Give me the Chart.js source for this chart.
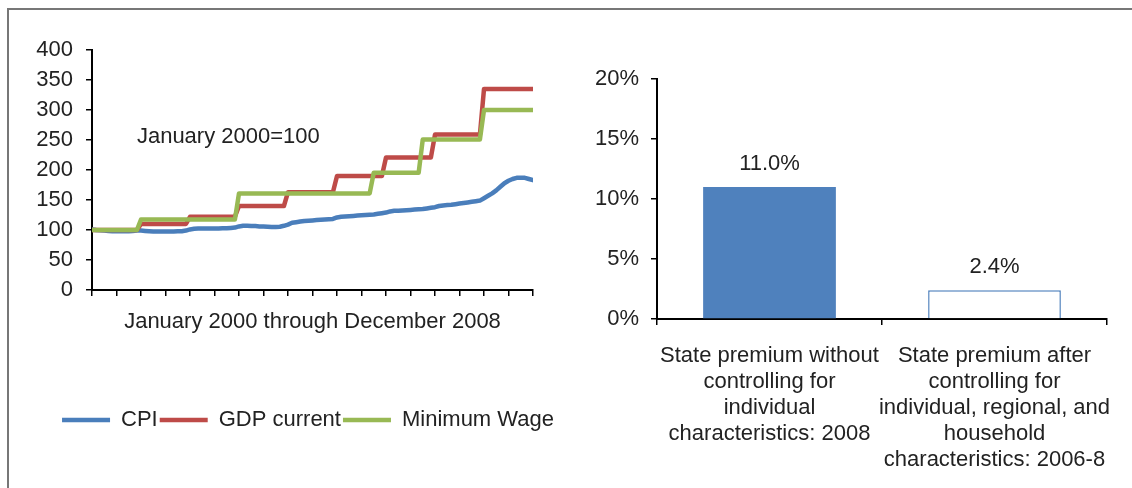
<!DOCTYPE html>
<html><head><meta charset="utf-8">
<script src="https://cdn.jsdelivr.net/npm/chart.js@4.4.1/dist/chart.umd.min.js"></script>
<style>
html,body{margin:0;padding:0;background:#fff;}
#wrap{position:relative;width:1132px;height:488px;overflow:hidden;}
#frame{position:absolute;left:7px;top:8px;width:1200px;height:600px;border-top:2px solid #777;border-left:2px solid #777;}
#c1{position:absolute;left:0;top:0;}
#c2{position:absolute;left:566px;top:0;}
</style></head><body>
<div id="wrap"><div id="frame"></div>
<canvas id="c1" width="566" height="488"></canvas>
<canvas id="c2" width="566" height="488"></canvas></div>
<script>
// ---- Left chart: January 2000 = 100, monthly Jan 2000 .. Jan 2009 (109 points)
const seriesNames = ['CPI', 'GDP current', 'Minimum Wage'];
const cpi = [
  101,100,99.5,99,98.5,98,98,98,98,98,98.5,99,
  99,98.5,98,97.5,97.5,97.5,97.5,97.5,97.5,98,98,99,
  101,102,102.5,102.5,102.5,102.5,102.5,102.5,103,103,103.5,104,
  106,107,107,106.5,106.5,106,106,105.5,105,105,105.5,107,
  109,112,113,114,115,115.5,116,116.5,117,117.5,118,118.5,
  121,122,122.5,123,123.5,124,124.5,125,125.5,126,127,128,
  129,131,132,132,132.5,133,133.5,134,134.5,135,136,137,
  138,140,141,141.5,142,143,144,145,146,147,148,149,
  153,157,161,166,172,178,182,185,187,187,187,185,183
];
const gdp = [
  100,100,100,100,100,100,100,100,100,100,100,100,
  110,110,110,110,110,110,110,110,110,110,110,110,
  122,122,122,122,122,122,122,122,122,122,122,122,
  140,140,140,140,140,140,140,140,140,140,140,140,
  163,163,163,163,163,163,163,163,163,163,163,163,
  190,190,190,190,190,190,190,190,190,190,190,190,
  221,221,221,221,221,221,221,221,221,221,221,221,
  259,259,259,259,259,259,259,259,259,259,259,259,
  335,335,335,335,335,335,335,335,335,335,335,335,335
];
const minWage = [
  100,100,100,100,100,100,100,100,100,100,100,100,
  117.5,117.5,117.5,117.5,117.5,117.5,117.5,117.5,117.5,117.5,117.5,117.5,
  117.5,117.5,117.5,117.5,117.5,117.5,117.5,117.5,117.5,117.5,117.5,117.5,
  161,161,161,161,161,161,161,161,161,161,161,161,
  161,161,161,161,161,161,161,161,161,161,161,161,
  161,161,161,161,161,161,161,161,161,
  195.5,195.5,195.5,195.5,195.5,195.5,195.5,195.5,195.5,195.5,195.5,195.5,
  251,251,251,251,251,251,251,251,251,251,251,251,251,251,251,
  300,300,300,300,300,300,300,300,300,300,300,300,300
];
const xTitle = 'January 2000 through December 2008';
const baseNote = 'January 2000=100';

// ---- Right chart
const premiumLabels = [
  ['State premium without', 'controlling for', 'individual', 'characteristics: 2008'],
  ['State premium after', 'controlling for', 'individual, regional, and', 'household', 'characteristics: 2006-8']
];
const premiumValues = [11.0, 2.4];
const pctTicks = [0, 5, 10, 15, 20];

const FONT = '"Liberation Sans", Arial, sans-serif';
const TXT = '#222222';
Chart.defaults.font.family = FONT;
Chart.defaults.font.size = 22;
Chart.defaults.color = TXT;

const toXY = arr => arr.map((v, i) => ({x: i, y: v}));
const axisGrid = {drawOnChartArea: false, drawTicks: true, tickLength: 6, color: '#000', lineWidth: 1.5};
const axisBorder = {color: '#000', width: 2};

const notePlugin = {
  id: 'note',
  afterDatasetsDraw(chart, args, opts) {
    const {ctx, scales: {x, y}} = chart;
    ctx.save();
    ctx.font = '22px ' + FONT;
    ctx.fillStyle = TXT;
    ctx.textAlign = 'left';
    ctx.textBaseline = 'middle';
    ctx.fillText(opts.text, x.getPixelForValue(opts.x), y.getPixelForValue(opts.y));
    ctx.restore();
  }
};

// shift the legend box horizontally so it is centred where the original legend sits
const legendShiftPlugin = {
  id: 'legendShift',
  afterLayout(chart, args, opts) {
    const lg = chart.legend;
    if (lg) { lg.left += opts.dx; lg.right += opts.dx; }
  }
};

new Chart(document.getElementById('c1'), {
  type: 'line',
  data: {
    datasets: [
      {label: seriesNames[0], data: toXY(cpi), borderColor: '#4A7EBB', backgroundColor: '#4A7EBB', order: 3},
      {label: seriesNames[1], data: toXY(gdp), borderColor: '#BE4B48', backgroundColor: '#BE4B48', order: 2},
      {label: seriesNames[2], data: toXY(minWage), borderColor: '#98B954', backgroundColor: '#98B954', order: 1}
    ].map(d => Object.assign(d, {borderWidth: 4.5, pointRadius: 0, tension: 0, borderCapStyle: 'round', borderJoinStyle: 'round', fill: false}))
  },
  options: {
    responsive: false, animation: false,
    layout: {padding: {left: 0, right: 33, top: 50, bottom: 47}},
    scales: {
      x: {
        type: 'linear', min: 0, max: 108,
        ticks: {stepSize: 6, maxTicksLimit: 100, autoSkip: false, callback: () => ''},
        grid: axisGrid, border: axisBorder,
        title: {display: true, text: xTitle, color: TXT, font: {size: 22}, padding: {top: 0, bottom: 72}},
        afterFit: s => { s.height = 117; s.paddingLeft = 0; s.paddingRight = 0; }
      },
      y: {
        min: 0, max: 400,
        ticks: {stepSize: 50, autoSkip: false, padding: 13, color: TXT},
        grid: axisGrid, border: axisBorder,
        afterFit: s => { s.width = 92; }
      }
    },
    plugins: {
      legend: {
        position: 'bottom',
        labels: {usePointStyle: true, pointStyle: 'line', pointStyleWidth: 48, padding: 2, color: TXT, font: {size: 22},
                 sort: (a, b) => a.datasetIndex - b.datasetIndex}
      },
      legendShift: {dx: 41.5},
      tooltip: {enabled: false},
      note: {text: baseNote, x: 11, y: 255}
    }
  },
  plugins: [notePlugin, legendShiftPlugin]
});

const barLabelPlugin = {
  id: 'barLabels',
  afterDatasetsDraw(chart, args, opts) {
    const {ctx} = chart;
    const meta = chart.getDatasetMeta(0);
    const vals = chart.data.datasets[0].data;
    ctx.save();
    ctx.font = '22px ' + FONT;
    ctx.fillStyle = TXT;
    ctx.textAlign = 'center';
    ctx.textBaseline = 'middle';
    meta.data.forEach((el, i) => {
      ctx.fillText(vals[i].toFixed(1) + '%', el.x, el.y - opts.offset);
    });
    ctx.restore();
  }
};

new Chart(document.getElementById('c2'), {
  type: 'bar',
  data: {
    labels: premiumLabels,
    datasets: [{
      data: premiumValues,
      backgroundColor: ['#4F81BD', '#FFFFFF'],
      borderColor: '#4F81BD',
      borderWidth: [0, 1.5],
      categoryPercentage: 1, barPercentage: 0.59
    }]
  },
  options: {
    responsive: false, animation: false,
    layout: {padding: {left: 0, right: 25, top: 79, bottom: 9}},
    scales: {
      x: {
        grid: Object.assign({offset: true}, axisGrid), border: axisBorder,
        ticks: {padding: 18, autoSkip: false, maxRotation: 0, minRotation: 0, color: TXT, font: {size: 22, lineHeight: 1.18}},
        afterFit: s => { s.height = 160; s.paddingLeft = 0; s.paddingRight = 0; }
      },
      y: {
        min: pctTicks[0], max: pctTicks[pctTicks.length - 1],
        ticks: {stepSize: 5, autoSkip: false, padding: 12, color: TXT, callback: v => v + '%'},
        grid: axisGrid, border: axisBorder,
        afterFit: s => { s.width = 91; }
      }
    },
    plugins: {legend: {display: false}, tooltip: {enabled: false}, barLabels: {offset: 23}}
  },
  plugins: [barLabelPlugin]
});
</script>
</body></html>
